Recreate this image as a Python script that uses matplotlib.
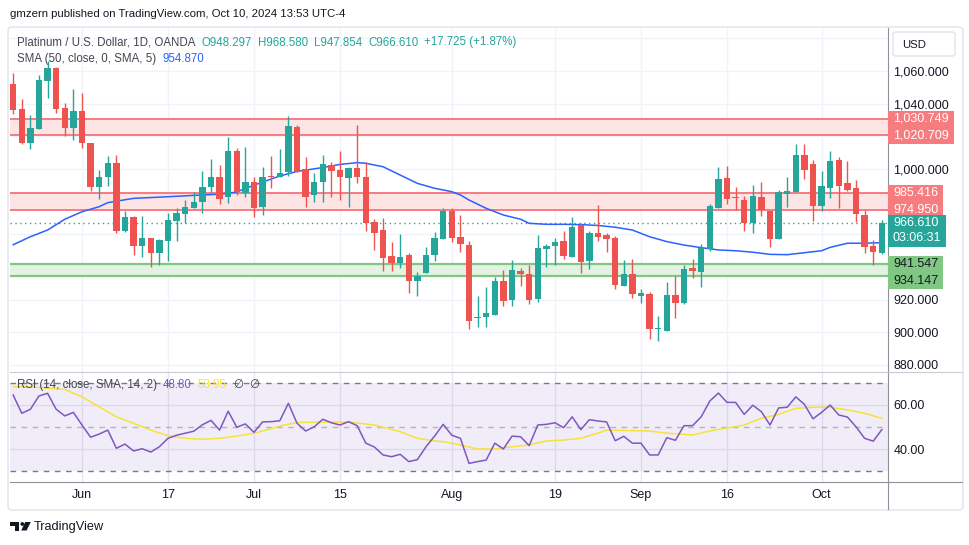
import numpy as np
import pandas as pd
import matplotlib
matplotlib.use('Agg')
import matplotlib.pyplot as plt
from matplotlib.patches import Rectangle, FancyBboxPatch, Polygon, Circle

plt.rcParams['font.family'] = ['Liberation Sans', 'DejaVu Sans']

# ---- data (XPT/USD daily, OANDA) ----
dates = pd.bdate_range('2024-05-22', '2024-10-10')

opens = [1052.1, 1036.6, 1016.1, 1024.7, 1054.1, 1061.7, 1037.2, 1025.4, 1035.5, 1015.7,
         989.2, 994.9, 1003.5, 962.2, 970.4, 953.0, 957.5, 948.4, 956.0, 968.3,
         972.2, 976.3, 979.5, 989.2, 994.9, 982.7, 1011.2, 985.1, 992.0, 977.0,
         995.7, 995.0, 998.4, 1025.5, 999.8, 983.9, 992.0, 1002.5, 999.4, 994.7,
         1000.4, 994.9, 967.3, 962.6, 946.7, 942.2, 947.3, 931.1, 936.5, 947.3,
         957.0, 974.3, 958.3, 953.4, 908.8, 909.0, 910.5, 931.4, 919.7, 937.5,
         935.7, 920.3, 950.7, 952.8, 955.9, 946.3, 965.5, 943.8, 961.0, 959.6,
         957.9, 928.3, 935.7, 922.4, 923.4, 902.2, 900.9, 922.8, 918.1, 939.5,
         937.1, 950.8, 976.3, 994.3, 982.7, 981.0, 967.2, 982.7, 974.3, 956.9,
         984.9, 986.1, 1008.6, 1003.1, 977.3, 988.5, 1005.5, 991.6, 988.4, 971.8,
         952.8, 948.297]
highs = [1058.8, 1042.8, 1033.1, 1057.6, 1066.0, 1062.2, 1040.3, 1048.8, 1046.4, 1016.0,
         999.4, 1008.0, 1008.6, 974.3, 971.2, 971.2, 957.8, 957.0, 972.9, 976.3,
         981.0, 986.1, 999.0, 1006.1, 1002.5, 1019.4, 1012.7, 1013.3, 995.3, 1001.0,
         1008.0, 1012.1, 1032.5, 1027.0, 1007.5, 997.4, 1008.6, 1004.5, 1011.0, 1001.4,
         1027.0, 1004.5, 969.2, 969.8, 955.3, 960.2, 948.4, 937.1, 952.4, 961.6,
         976.3, 975.9, 971.8, 956.1, 922.2, 927.5, 933.6, 938.1, 944.2, 939.2,
         941.2, 959.6, 954.0, 957.9, 962.0, 970.6, 966.7, 962.0, 977.9, 960.6,
         958.9, 944.2, 944.7, 926.3, 924.4, 909.9, 930.6, 934.4, 941.2, 944.9,
         954.0, 978.6, 1001.4, 1001.8, 989.2, 983.7, 990.2, 992.2, 974.5, 987.1,
         994.9, 1015.3, 1015.3, 1005.5, 998.8, 1011.0, 1007.2, 1004.9, 993.3, 974.9,
         956.5, 968.580]
lows = [1033.7, 1015.5, 1012.4, 1024.7, 1043.3, 1034.1, 1020.2, 1017.8, 1012.7, 986.5,
        981.4, 989.6, 960.6, 961.6, 947.3, 946.3, 939.8, 941.2, 943.6, 956.1,
        967.1, 975.9, 973.2, 985.1, 978.6, 979.4, 984.1, 982.7, 970.4, 971.6,
        988.2, 995.0, 995.7, 998.0, 976.9, 980.0, 980.0, 983.1, 981.0, 976.5,
        991.6, 962.2, 950.4, 937.7, 937.7, 939.2, 924.3, 922.4, 936.5, 943.9,
        956.9, 955.0, 949.3, 902.0, 903.4, 903.4, 910.5, 916.2, 916.2, 928.0,
        917.3, 918.7, 939.8, 941.2, 944.7, 946.3, 936.1, 938.5, 956.1, 949.3,
        926.5, 928.0, 921.1, 918.0, 895.8, 894.8, 900.7, 908.9, 917.3, 933.0,
        927.5, 950.0, 976.3, 978.6, 974.9, 962.2, 961.0, 971.2, 952.0, 956.9,
        976.5, 986.1, 993.9, 968.3, 974.4, 982.4, 976.3, 986.5, 967.7, 948.7,
        941.0, 947.854]
closes = [1036.2, 1016.1, 1024.9, 1054.5, 1061.7, 1036.8, 1025.4, 1035.5, 1015.7, 989.2,
          994.9, 1003.5, 962.2, 970.4, 953.0, 957.5, 948.4, 956.5, 968.8, 972.9,
          976.9, 980.0, 989.2, 994.9, 981.4, 1011.2, 986.1, 992.0, 976.3, 994.9,
          995.1, 997.4, 1026.3, 998.4, 983.0, 992.0, 1002.9, 999.0, 995.3, 1000.4,
          994.9, 967.2, 961.0, 945.7, 942.6, 945.9, 931.6, 934.4, 947.3, 957.9,
          974.3, 957.9, 954.0, 907.0, 909.6, 911.6, 931.4, 919.3, 938.1, 935.7,
          919.7, 951.8, 953.0, 955.3, 946.7, 964.5, 943.2, 961.0, 958.6, 957.3,
          928.9, 935.7, 923.2, 924.0, 902.0, 902.6, 922.8, 918.1, 938.7, 937.7,
          951.4, 977.3, 993.9, 981.6, 982.2, 967.2, 983.5, 974.6, 956.9, 985.9,
          986.5, 1008.6, 999.4, 977.3, 989.6, 1004.9, 989.8, 987.1, 972.2, 952.4,
          948.885, 966.610]

# SMA(50) line, read at sampled bars
sma_idx = [0, 2, 4, 6, 8, 10, 11, 14, 18, 22, 24, 26, 27, 29, 31, 33, 36, 38, 40, 41,
           43, 45, 47, 49, 51, 52, 53, 55, 57, 59, 60, 62, 64, 66, 68, 70, 72, 74, 76, 78,
           80, 82, 84, 86, 88, 90, 92, 94, 95, 97, 99, 101]
sma_val = [953.6, 958.5, 962.6, 969.2, 973.8, 976.9, 979.4, 982.0, 983.0, 984.1,
           984.5, 985.9, 988.1, 992.0, 995.7, 998.5, 1000.9, 1002.8, 1003.9, 1003.5,
           1001.4, 996.3, 991.2, 988.2, 986.1, 984.1, 981.0, 975.9, 971.8, 969.2,
           966.7, 966.1, 966.1, 965.9, 965.4, 964.3, 962.6, 958.5, 955.5, 953.4,
           951.8, 950.4, 949.9, 949.0, 947.7, 947.5, 948.7, 949.9, 952.0, 954.5,
           954.5, 954.870]

rsi = [64.4, 56.2, 58.0, 64.0, 65.2, 58.0, 55.0, 56.6, 50.9, 45.4,
       46.8, 48.6, 40.4, 42.3, 39.2, 40.2, 38.7, 41.1, 44.9, 46.3,
       47.2, 48.1, 51.0, 53.0, 48.6, 57.1, 49.9, 51.4, 47.6, 52.3,
       52.4, 52.8, 60.7, 51.7, 48.2, 50.1, 53.5, 51.9, 50.9, 52.4,
       50.6, 42.7, 41.0, 37.4, 36.6, 37.7, 34.4, 35.3, 41.1, 45.9,
       51.2, 46.3, 44.9, 33.6, 34.4, 35.1, 42.7, 40.1, 45.9, 45.6,
       41.6, 50.9, 51.2, 51.9, 49.7, 54.6, 48.8, 53.3, 52.7, 52.3,
       43.8, 45.8, 42.7, 42.7, 37.4, 37.4, 45.2, 44.0, 50.6, 50.6,
       54.6, 61.7, 65.3, 61.1, 61.1, 55.7, 59.8, 56.9, 50.9, 58.6,
       58.9, 63.6, 60.2, 53.7, 56.6, 59.9, 55.4, 54.5, 50.1, 44.9,
       43.6, 48.80]

rsi_ma_idx = [0, 2, 6, 8, 10, 12, 14, 16, 18, 20, 22, 24, 26, 28, 30, 31, 33, 35, 39, 42,
              45, 47, 49, 50, 52, 54, 56, 58, 60, 62, 64, 66, 68, 69, 74, 76, 79, 81, 85, 87,
              89, 91, 93, 95, 97, 99, 101]
rsi_ma_val = [68.1, 68.1, 66.9, 63.6, 59.1, 54.6, 51.7, 48.6, 46.1, 44.9,
              44.5, 44.9, 45.9, 47.2, 49.2, 50.5, 52.0, 52.2, 52.2, 50.9,
              47.9, 44.9, 43.7, 43.4, 41.9, 40.1, 40.1, 41.1, 41.9, 43.7,
              44.1, 44.9, 47.2, 48.6, 48.2, 47.2, 46.4, 48.2, 50.9, 53.9,
              55.7, 58.4, 58.9, 58.9, 57.7, 56.2, 53.95]

red_zones = [(1020.709, 1030.749), (974.950, 985.416)]
green_zones = [(934.147, 941.547)]

tick_dates = ['2024-06-03', '2024-06-17', '2024-07-01', '2024-07-15', '2024-08-01',
              '2024-08-19', '2024-09-02', '2024-09-16', '2024-10-01']
tick_labels = ['Jun', '17', 'Jul', '15', 'Aug', '19', 'Sep', '16', 'Oct']

price_ticks = [880, 900, 920, 940, 960, 980, 1000, 1020, 1040, 1060, 1080]
price_shown = [880, 900, 920, 1000, 1040, 1060]

# ---- styling ----
GREEN = '#26a69a'
RED = '#ef5350'
BLUE = '#2962ff'
PURPLE = '#7e57c2'
YELLOW = '#f7e23a'
TXT = '#131722'
GREY = '#434651'
GRID = '#f0f3fa'
ZRED = '#f77c80'
ZGREEN = '#81c784'

W, H = 970, 545
fig = plt.figure(figsize=(W / 100, H / 100), dpi=100)
fig.patch.set_facecolor('white')

def frac(x0, y0, x1, y1):
    return [x0 / W, 1 - y1 / H, (x1 - x0) / W, (y1 - y0) / H]

ax = fig.add_axes(frac(10, 28, 888, 372))
ax_rsi = fig.add_axes(frac(10, 372, 888, 482))

x = np.arange(len(dates))
o, h, l, c = (np.array(v) for v in (opens, highs, lows, closes))
col = np.where(c >= o, GREEN, RED)
tick_idx = [dates.get_loc(pd.Timestamp(d)) for d in tick_dates]

xlim = (-0.37, 101.72)

# main pane
for lo, hi in red_zones:
    ax.axhspan(lo, hi, color='#fde4e5', lw=0, zorder=1)
    ax.axhline(lo, color=ZRED, lw=1.4, zorder=2)
    ax.axhline(hi, color=ZRED, lw=1.4, zorder=2)
for lo, hi in green_zones:
    ax.axhspan(lo, hi, color='#e3f2e2', lw=0, zorder=1)
    ax.axhline(lo, color=ZGREEN, lw=1.6, zorder=2)
    ax.axhline(hi, color=ZGREEN, lw=1.6, zorder=2)

ax.axhline(c[-1], color=GREEN, lw=1, ls=(0, (1, 2.5)), zorder=2)
ax.plot(sma_idx, sma_val, color=BLUE, lw=1.1, zorder=2.5)

ax.vlines(x, l, h, colors=col, lw=1.0, zorder=3)
body = np.maximum(np.abs(c - o), 0.6)
ax.bar(x, body, bottom=np.minimum(o, c), width=0.76, color=col, lw=0, zorder=4)

ax.set_xlim(*xlim)
ax.set_ylim(875.6, 1086.4)
ax.set_xticks(tick_idx)
ax.set_xticklabels([])
ax.set_yticks(price_ticks)
ax.set_yticklabels([f'{v:,.3f}' if v in price_shown else '' for v in price_ticks])
ax.yaxis.tick_right()
ax.tick_params(axis='y', length=0, pad=4, labelsize=9, labelcolor=TXT)
ax.tick_params(axis='x', length=0)
ax.grid(True, color=GRID, lw=1)
ax.set_axisbelow(True)
for s in ax.spines.values():
    s.set_visible(False)

# RSI pane
ax_rsi.axhspan(30, 70, color=PURPLE, alpha=0.1, lw=0, zorder=1)
ax_rsi.axhline(70, color='#787b86', lw=1, ls=(0, (4, 4)), zorder=2)
ax_rsi.axhline(30, color='#787b86', lw=1, ls=(0, (4, 4)), zorder=2)
ax_rsi.axhline(50, color='#787b86', lw=1, ls=(0, (4, 4)), alpha=0.5, zorder=2)
ax_rsi.plot(rsi_ma_idx, rsi_ma_val, color=YELLOW, lw=1.1, zorder=3)
ax_rsi.plot(x, rsi, color=PURPLE, lw=1.1, zorder=4)
ax_rsi.set_xlim(*xlim)
ax_rsi.set_ylim(25.2, 74.8)
ax_rsi.set_yticks([40, 60])
ax_rsi.set_yticklabels(['40.00', '60.00'])
ax_rsi.yaxis.tick_right()
ax_rsi.set_xticks(tick_idx)
ax_rsi.set_xticklabels(tick_labels)
ax_rsi.tick_params(axis='y', length=0, pad=4, labelsize=9, labelcolor=TXT)
ax_rsi.tick_params(axis='x', length=0, pad=5, labelsize=9, labelcolor=TXT)
ax_rsi.grid(True, color='#e9e6f1', lw=1)
ax_rsi.set_axisbelow(True)
for s in ax_rsi.spines.values():
    s.set_visible(False)

# overlay in pixel coordinates (top-left origin)
ov = fig.add_axes([0, 0, 1, 1])
ov.set_xlim(0, W)
ov.set_ylim(H, 0)
ov.axis('off')
ov.set_zorder(10)
ov.patch.set_visible(False)
r = fig.canvas.get_renderer()

def py(price):
    return H - ax.transData.transform((0, price))[1]

def chain(x0, y0, parts, size):
    for s, colr in parts:
        t = ov.text(x0, y0, s, color=colr, fontsize=size, va='center', ha='left')
        x0 += t.get_window_extent(renderer=r).width + 6

# frame and separators
ov.add_patch(FancyBboxPatch((8, 27), 955, 483, boxstyle='round,pad=0,rounding_size=4',
                            ec='#e0e3eb', fc='none', lw=1))
ov.plot([888, 888], [28, 509], color='#8e9199', lw=0.8)
ov.plot([10, 962], [372, 372], color='#c9cbd3', lw=0.8)
ov.plot([10, 962], [482, 482], color='#8e9199', lw=0.8)

# price-scale labels
def price_box(p_top, p_bot, t_top, t_bot, fc, tc, gap=16.5):
    y0 = py(p_top)
    y1 = max(py(p_bot), y0 + gap)
    t1 = ov.text(893, y0, t_top, color=tc, fontsize=9, va='center', ha='left', zorder=3)
    t2 = ov.text(893, y1, t_bot, color=tc, fontsize=9, va='center', ha='left', zorder=3)
    wmax = max(t1.get_window_extent(renderer=r).width, t2.get_window_extent(renderer=r).width)
    ov.add_patch(Rectangle((888, y0 - 8), 5 + wmax + 5, (y1 - y0) + 16.5, fc=fc, ec='none', zorder=2))

for lo, hi in red_zones:
    price_box(hi, lo, f'{hi:,.3f}', f'{lo:,.3f}', ZRED, 'white')
price_box(c[-1], c[-1], f'{c[-1]:,.3f}', '03:06:31', GREEN, 'white', gap=15)
for lo, hi in green_zones:
    price_box(hi, lo, f'{hi:,.3f}', f'{lo:,.3f}', ZGREEN, TXT)

ov.add_patch(FancyBboxPatch((893, 32), 62, 24, boxstyle='round,pad=0,rounding_size=3',
                            ec='#e0e3eb', fc='white', lw=1))
ov.text(902, 44.5, 'USD', color=TXT, fontsize=8.2, va='center', ha='left')

# legends
ov.text(10, 14, 'gmzern published on TradingView.com, Oct 10, 2024 13:53 UTC-4',
        color=TXT, fontsize=8.2, va='center', ha='left')
chg = c[-1] - c[-2]
chain(17, 42.5, [('Platinum / U.S. Dollar, 1D, OANDA', GREY),
                 (f'O{o[-1]:.3f}', GREEN), (f'H{h[-1]:.3f}', GREEN),
                 (f'L{l[-1]:.3f}', GREEN), (f'C{c[-1]:.3f}', GREEN),
                 (f'{chg:+.3f} ({chg / c[-2] * 100:+.2f}%)', GREEN)], 8.3)
chain(17, 59, [('SMA (50, close, 0, SMA, 5)', GREY), (f'{sma_val[-1]:.3f}', BLUE)], 8.3)
chain(17, 385, [('RSI (14, close, SMA, 14, 2)', GREY), (f'{rsi[-1]:.2f}', PURPLE),
                (f'{rsi_ma_val[-1]:.2f}', YELLOW), ('\u2205', GREY), ('\u2205', GREY)], 8.3)

# TradingView logo
ov.add_patch(Polygon([(10, 522), (19.5, 522), (19.5, 530.5), (15, 530.5), (15, 525.8), (10, 525.8)],
                     closed=True, fc=TXT, ec='none'))
ov.add_patch(Circle((22.3, 524), 1.9, fc=TXT, ec='none'))
ov.add_patch(Polygon([(25.2, 522), (30.8, 522), (26.6, 530.5), (21.2, 530.5)], closed=True, fc=TXT, ec='none'))
ov.text(34, 527, 'TradingView', color=TXT, fontsize=9.2, va='center', ha='left')

fig.savefig('out.png', dpi=100)
